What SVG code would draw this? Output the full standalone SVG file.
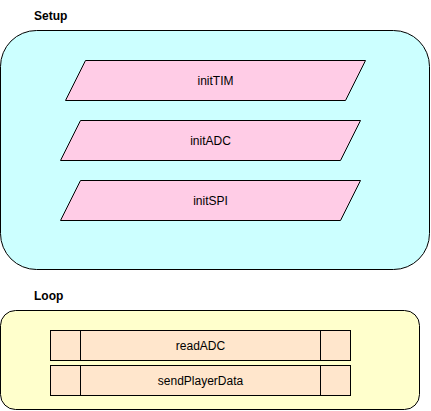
<svg xmlns="http://www.w3.org/2000/svg" width="431" height="411" viewBox="0 0 431 411">
<style>
.c{stroke:#000;stroke-width:1}
.pg{fill:#FFCCE6;stroke:#000;stroke-width:1}
.pr{fill:#FFE6CC;stroke:#000;stroke-width:1}
.t{font-family:"Liberation Sans",Arial,sans-serif;font-size:12px;fill:#000;text-anchor:middle}
.h{font-family:"Liberation Sans",Arial,sans-serif;font-size:12px;font-weight:bold;fill:#000}
</style>
<rect width="431" height="411" fill="#fff"/>
<g id="setup">
<rect class="c" x="0.5" y="30.5" width="429" height="239" rx="36" ry="36" fill="#CCFFFF"/>
<text class="h" x="34" y="19.5">Setup</text>
</g>
<g id="initTIM">
<polygon class="pg" points="85.5,60.5 365.5,60.5 345.5,100.5 65.5,100.5"/>
<text class="t" x="215.5" y="84.5">initTIM</text>
</g>
<g id="initADC">
<polygon class="pg" points="80.5,120.5 360.5,120.5 340.5,160.5 60.5,160.5"/>
<text class="t" x="210.5" y="144.5">initADC</text>
</g>
<g id="initSPI">
<polygon class="pg" points="80.5,180.5 360.5,180.5 340.5,220.5 60.5,220.5"/>
<text class="t" x="210.5" y="204.5">initSPI</text>
</g>
<g id="loop">
<rect class="c" x="0.5" y="310.5" width="419" height="99" rx="15" ry="15" fill="#FFFFCC"/>
<text class="h" x="34" y="299.5">Loop</text>
</g>
<g id="readADC">
<rect class="pr" x="50.5" y="330.5" width="300" height="30"/>
<line class="c" x1="80.5" y1="330.5" x2="80.5" y2="360.5"/>
<line class="c" x1="320.5" y1="330.5" x2="320.5" y2="360.5"/>
<text class="t" x="200.5" y="349.5">readADC</text>
</g>
<g id="sendPlayerData">
<rect class="pr" x="50.5" y="365.5" width="300" height="30"/>
<line class="c" x1="80.5" y1="365.5" x2="80.5" y2="395.5"/>
<line class="c" x1="320.5" y1="365.5" x2="320.5" y2="395.5"/>
<text class="t" x="200.5" y="384.5">sendPlayerData</text>
</g>
<g id="connectors"></g>
</svg>
